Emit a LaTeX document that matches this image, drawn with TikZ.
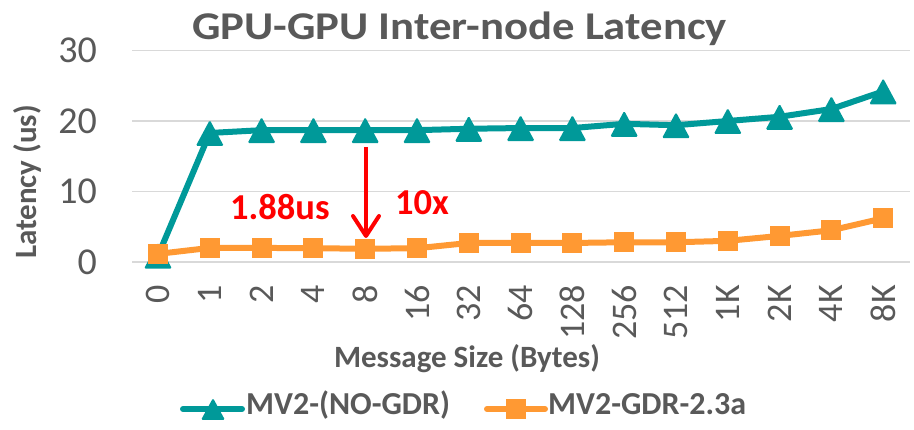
\documentclass[tikz,border=0pt]{standalone}
\usepackage{graphicx}
\usepackage{fontspec}
\setmainfont{Carlito}
\usetikzlibrary{arrows.meta}

\definecolor{tealser}{RGB}{0,153,153}
\definecolor{orangeser}{RGB}{255,153,51}
\definecolor{txtgray}{RGB}{89,89,89}
\definecolor{gridgray}{RGB}{217,217,217}
\definecolor{callred}{RGB}{255,0,0}

% squeeze the chart title vertically a little
\newcommand\vsq[1]{\scalebox{1}[0.88]{#1}}

\begin{document}
\begin{tikzpicture}[x=1pt,y=-1pt,
  gridline/.style={draw=gridgray, line width=1.5pt},
  ticky/.style={font=\fontsize{38}{38}\selectfont, text=txtgray, anchor=east, inner sep=0pt},
  tickx/.style={font=\fontsize{36}{36}\selectfont, text=txtgray, anchor=east, rotate=90, inner sep=0pt},
  axtitle/.style={font=\bfseries\fontsize{31}{31}\selectfont, text=txtgray, inner sep=0pt},
  legtext/.style={font=\bfseries\fontsize{32}{32}\selectfont, text=txtgray, inner sep=0pt, anchor=base west},
  charttitle/.style={font=\bfseries\fontsize{44.7}{45}\selectfont, text=txtgray, inner sep=0pt, anchor=base},
  calltext/.style={font=\bfseries\fontsize{36.5}{36.5}\selectfont, text=callred, inner sep=0pt, anchor=base west},
  tealline/.style={draw=tealser, line width=6pt, line join=round, line cap=round},
  orangeline/.style={draw=orangeser, line width=6pt, line join=round, line cap=round},
  tri/.style={fill=tealser, rounded corners=1.5pt},
  sq/.style={fill=orangeser},
]
\useasboundingbox (0,0) rectangle (914,430);

% title
\node[charttitle] (title) at (459.5,40) {\vsq{GPU-GPU Inter-node Latency}};

% horizontal gridlines (0 .. 30)
\foreach \g/\yy in {0/262,10/191.5,20/121,30/50.5} {
  \coordinate (gl\g) at (132,\yy);
  \coordinate (gr\g) at (910,\yy);
  \draw[gridline] (gl\g) -- (gr\g);
  \node[ticky] (yl\g) at (97,\yy) {\g};
}

% axis titles
\node[axtitle, rotate=90] (ytitle) at (27,182) {Latency (us)};
\node[axtitle, anchor=base] (xtitle) at (467,368) {Message Size (Bytes)};

% category labels
\foreach \lab [count=\i from 0] in {0,1,2,4,8,16,32,64,128,256,512,1K,2K,4K,8K}
  \node[tickx] (xl\i) at ({158+51.8*\i},285) {\lab};

% data points
\foreach \v [count=\i from 0] in {0.9,18.3,18.7,18.7,18.7,18.7,18.9,19.0,19.0,19.6,19.4,20.0,20.6,21.7,24.2}
  \coordinate (t\i) at ({158+51.8*\i},{262-7.05*\v});
\foreach \v [count=\i from 0] in {1.15,2.0,2.0,1.95,1.88,1.95,2.7,2.7,2.7,2.8,2.8,3.0,3.7,4.5,6.2}
  \coordinate (o\i) at ({158+51.8*\i},{262-7.05*\v});

% MV2-(NO-GDR) series
\draw[tealline] (t0) \foreach \i in {1,...,14} { -- (t\i) };
\foreach \i in {0,...,14}
  \path[tri, shift={(t\i)}] (-14,13) -- (14,13) -- (0,-13) -- cycle;

% MV2-GDR-2.3a series
\draw[orangeline] (o0) \foreach \i in {1,...,14} { -- (o\i) };
\foreach \i in {0,...,14}
  \path[sq, shift={(o\i)}] (-10,-10) rectangle (10,10);

% call-out arrow and labels
\coordinate (arrS) at (366,147);
\coordinate (arrE) at (366,238);
\draw[callred, line width=4pt, -{Straight Barb[length=20pt,width=26pt,round]}] (arrS) -- (arrE);
\node[calltext] (lat) at (230,220) {1.88us};
\node[calltext] (fac) at (395,215) {10x};

% legend
\coordinate (lt1) at (183,409);
\coordinate (lt2) at (242,409);
\coordinate (ltm) at (213,409);
\draw[tealline] (lt1) -- (lt2);
\path[tri, shift={(ltm)}] (-12,11) -- (12,11) -- (0,-11) -- cycle;
\node[legtext] (leg1) at (246,415) {MV2-(NO-GDR)};

\coordinate (lo1) at (487,409);
\coordinate (lo2) at (545,409);
\coordinate (lom) at (516,409);
\draw[orangeline] (lo1) -- (lo2);
\path[sq, shift={(lom)}] (-10,-10) rectangle (10,10);
\node[legtext] (leg2) at (548,415) {MV2-GDR-2.3a};
\end{tikzpicture}
\end{document}
